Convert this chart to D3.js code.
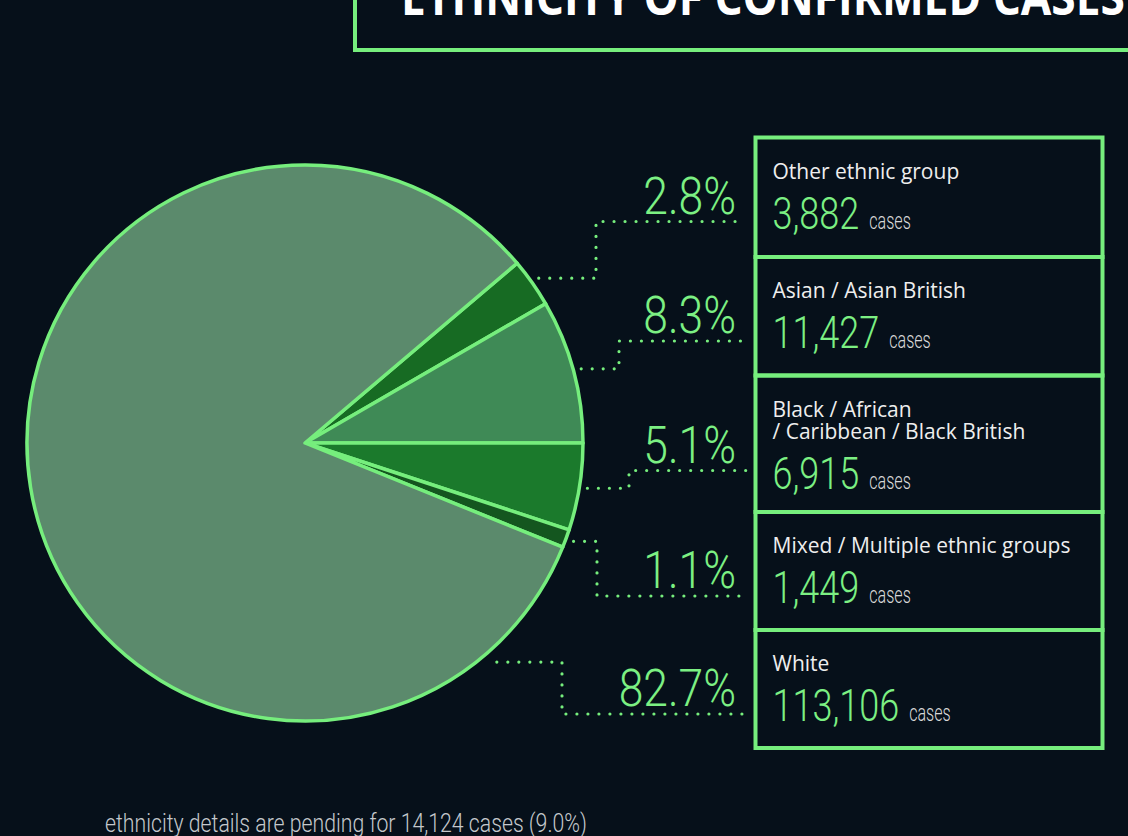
<!DOCTYPE html>
<meta charset="utf-8">
<script src="https://cdnjs.cloudflare.com/ajax/libs/d3/7.8.5/d3.min.js"></script>
<style>
	body{
		margin:0;
		background:#06101a;
		overflow:hidden;
	}
	svg{display:block;}
</style>
<svg id="chart" width="1128" height="836"></svg>
<script>
var title = "ETHNICITY OF CONFIRMED CASES"
var groupLabels = [
	["Other ethnic group"],
	["Asian / Asian British"],
	["Black / African", "/ Caribbean / Black British"],
	["Mixed / Multiple ethnic groups"],
	["White"]
]
var cases = [3882, 11427, 6915, 1449, 113106]
var percents = [2.8, 8.3, 5.1, 1.1, 82.7]
var sliceColors = ["#176b23", "#3f8a56", "#1b7a2c", "#14561f", "#5b8a6c"]
var pendingCases = 14124
var pendingPercent = 9.0

var green = "#7cf083"
var lineGreen = "#76ee7d"

var svg = d3.select("#chart")

// title box, cut by the top edge
svg.append("rect")
	.attr("x",355).attr("y",-30)
	.attr("width",820).attr("height",80)
	.attr("fill","none")
	.attr("stroke",lineGreen)
	.attr("stroke-width",4)
svg.append("text")
	.text(title)
	.attr("transform","translate(401,15) scale(0.885,1)")
	.style("font-family","'Open Sans', sans-serif")
	.style("font-weight",700)
	.style("font-size","50px")
	.attr("fill","#ffffff")

// pie
var cx = 305, cy = 443, r = 278
var total = d3.sum(cases)
// the first two slices sit above the 3 o'clock line
var start = Math.PI/2 - 2*Math.PI*(cases[0]+cases[1])/total
var pie = d3.pie().sort(null).startAngle(start).endAngle(start + 2*Math.PI)
var arcs = pie(cases)
var arc = d3.arc().innerRadius(0).outerRadius(r)

var g = svg.append("g").attr("transform","translate("+cx+","+cy+")")
g.selectAll("path")
	.data(arcs)
	.join("path")
	.attr("d",arc)
	.attr("fill",function(d,i){ return sliceColors[i] })
	.attr("stroke",lineGreen)
	.attr("stroke-width",3.5)
	.attr("stroke-linejoin","round")

// legend boxes
var boxX = 755.5, boxW = 347, boxTop = 137.5
var rowHeights = [119.5, 118.5, 136.5, 118, 118]
var rows = []
var y0 = boxTop
rowHeights.forEach(function(h,i){
	var labelY = y0 + 41
	var lastLabelY = labelY + (groupLabels[i].length-1)*22
	var numY = lastLabelY + 50
	var pctY = (labelY + numY)/2 + 10
	rows.push({top:y0, h:h, labelY:labelY, numY:numY, pctY:pctY, dotY:pctY+8})
	y0 += h
})

svg.append("g").selectAll("rect")
	.data(rows)
	.join("rect")
	.attr("x",boxX).attr("y",function(d){ return d.top })
	.attr("width",boxW).attr("height",function(d){ return d.h })
	.attr("fill","none")
	.attr("stroke",lineGreen)
	.attr("stroke-width",4)

var fmtInt = d3.format(",")
var fmtPct = d3.format(".1f")

rows.forEach(function(row,i){
	var lg = svg.append("g")
	groupLabels[i].forEach(function(line,j){
		lg.append("text")
			.text(line)
			.attr("x",boxX+17).attr("y",row.labelY + j*22)
			.style("font-family","'Open Sans', sans-serif")
			.style("font-size","21px")
			.attr("fill","#eeeeee")
	})
	var num = lg.append("text")
		.text(fmtInt(cases[i]))
		.attr("transform","translate("+(boxX+17)+","+row.numY+") scale(0.8,1)")
		.style("font-family","Roboto, sans-serif")
		.style("font-weight",300)
		.style("font-size","45px")
		.attr("fill",green)
	var numW = num.node().getComputedTextLength()*0.8
	lg.append("text")
		.text("cases")
		.attr("transform","translate("+(boxX+17+numW+10)+","+row.numY+") scale(0.7,1)")
		.style("font-family","Roboto, sans-serif")
		.style("font-weight",300)
		.style("font-size","23px")
		.attr("fill","#d8d8d8")

	lg.append("text")
		.text(fmtPct(percents[i])+"%")
		.attr("transform","translate(736,"+row.pctY+") scale(0.87,1)")
		.attr("text-anchor","end")
		.style("font-family","Roboto, sans-serif")
		.style("font-weight",300)
		.style("font-size","51px")
		.attr("fill",green)
})

// dotted leaders from slices to the boxes
var elbowX = [596, 619, 629, 597, 562]
var bigSliceAnchor = 140*Math.PI/180
var leaders = arcs.map(function(d,i){
	var a = (d.endAngle - d.startAngle) > Math.PI ? bigSliceAnchor : (d.startAngle+d.endAngle)/2
	var rr = r + 8
	var sx = cx + Math.sin(a)*rr
	var sy = cy - Math.cos(a)*rr
	if(i==4){ sx = sx + 8 }
	return "M"+sx+","+sy+"H"+elbowX[i]+"V"+rows[i].dotY+"H746"
})
svg.append("g").selectAll("path")
	.data(leaders)
	.join("path")
	.attr("d",function(d){ return d })
	.attr("fill","none")
	.attr("stroke",lineGreen)
	.attr("stroke-width",3.2)
	.attr("stroke-linecap","round")
	.attr("stroke-dasharray","0 11")

// footnote
svg.append("text")
	.text("ethnicity details are pending for "+fmtInt(pendingCases)+" cases ("+fmtPct(pendingPercent)+"%)")
	.attr("transform","translate(105,832) scale(0.85,1)")
	.style("font-family","Roboto, sans-serif")
	.style("font-weight",300)
	.style("font-size","25px")
	.attr("fill","#c4c8cc")
</script>
